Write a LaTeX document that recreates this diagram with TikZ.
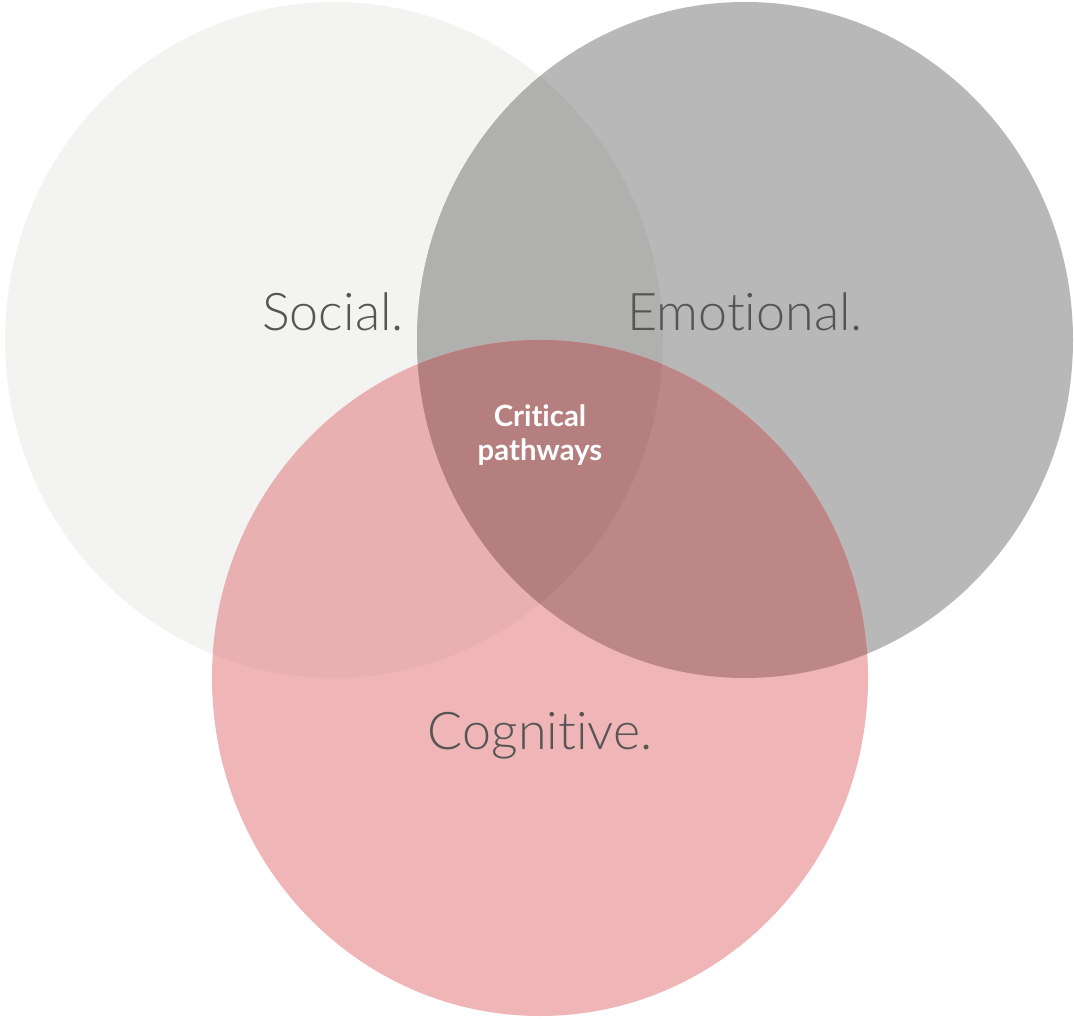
\documentclass[tikz,border=0pt]{standalone}
\usepackage{fontspec}
\setmainfont{Lato}[Ligatures=NoCommon]
\newfontfamily\fin{Lato Light}[Ligatures=NoCommon]
\usepackage{tikz}

\definecolor{social}{HTML}{F3F3F1}
\definecolor{emotion}{HTML}{B8B8B8}
\definecolor{cogn}{HTML}{F0B6B7}
\definecolor{socemo}{HTML}{B0B0AE}
\definecolor{cogsoc}{HTML}{E8B0B0}
\definecolor{cogemo}{HTML}{BE8787}
\definecolor{centre}{HTML}{B57F7F}
\definecolor{texte}{HTML}{555555}

\begin{document}
\begin{tikzpicture}[x=0.75pt,y=0.75pt,
    lab/.style={text=texte,font=\fin\fontsize{39}{44}\selectfont,inner sep=0pt}]
  \useasboundingbox (0,0) rectangle (1074,1018) ;
  \def\soc{(334,678) ellipse (329 and 338)}
  \def\emo{(745,678) ellipse (328 and 338)}
  \def\cog{(540,340) ellipse (328 and 338)}

  % les trois cercles
  \fill[social] \soc ;
  \fill[emotion] \emo ;
  \begin{scope} \clip \soc ; \fill[socemo] \emo ; \end{scope}
  \fill[cogn] \cog ;
  \begin{scope} \clip \cog ; \fill[cogsoc] \soc ; \end{scope}
  \begin{scope} \clip \cog ; \fill[cogemo] \emo ; \end{scope}
  % intersection des trois
  \begin{scope} \clip \cog ; \clip \soc ; \fill[centre] \emo ; \end{scope}

  \node[lab] (s) at (333,706) {Social.} ;
  \node[lab] (e) at (745,706) {Emotional.} ;
  \node[lab] (c) at (540,282) {Cognitive.} ;
  \node[text=white,align=center,inner sep=0pt,
        font=\bfseries\fontsize{22}{25}\selectfont] (p) at (540,583)
    {Critical\\pathways} ;
\end{tikzpicture}
\end{document}
